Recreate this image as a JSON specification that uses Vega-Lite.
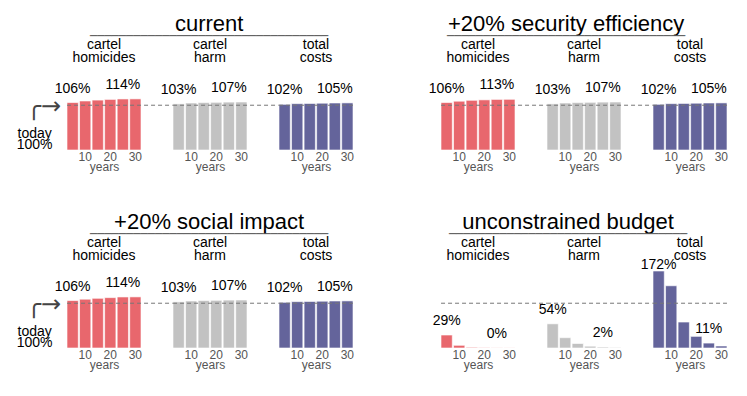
{
  "$schema": "https://vega.github.io/schema/vega-lite/v6.json",
  "padding": {"left": 16, "top": 13, "right": 5, "bottom": 5},
  "config": {
    "font": "Liberation Sans",
    "view": {"stroke": null},
    "title": {"font": "Liberation Sans", "fontSize": 22, "fontWeight": "normal", "color": "#000", "anchor": "middle", "subtitleFont": "DejaVu Sans", "subtitleFontSize": 12, "subtitleColor": "#555", "subtitlePadding": -5, "offset": -5},
    "header": {"labelFont": "Liberation Sans", "labelFontSize": 14, "labelColor": "#000", "labelPadding": 8, "labelLineHeight": 13},
    "axis": {"labelFont": "Liberation Sans", "labelFontSize": 12, "labelColor": "#555", "labelAngle": 0, "domain": false, "ticks": false, "grid": false, "labelPadding": 1, "titleFont": "Liberation Sans", "titleFontSize": 12, "titleFontWeight": "normal", "titleColor": "#555", "titlePadding": -1},
    "text": {"font": "Liberation Sans", "fontSize": 14, "color": "#000"}
  },
  "data": {"values": [
    {"scenario": "current", "metric": "cartel homicides", "year": 5, "value": 1.06},
    {"scenario": "current", "metric": "cartel homicides", "year": 10, "value": 1.095},
    {"scenario": "current", "metric": "cartel homicides", "year": 15, "value": 1.115},
    {"scenario": "current", "metric": "cartel homicides", "year": 20, "value": 1.13},
    {"scenario": "current", "metric": "cartel homicides", "year": 25, "value": 1.14},
    {"scenario": "current", "metric": "cartel homicides", "year": 30, "value": 1.142},
    {"scenario": "current", "metric": "cartel harm", "year": 5, "value": 1.03},
    {"scenario": "current", "metric": "cartel harm", "year": 10, "value": 1.05},
    {"scenario": "current", "metric": "cartel harm", "year": 15, "value": 1.06},
    {"scenario": "current", "metric": "cartel harm", "year": 20, "value": 1.065},
    {"scenario": "current", "metric": "cartel harm", "year": 25, "value": 1.07},
    {"scenario": "current", "metric": "cartel harm", "year": 30, "value": 1.072},
    {"scenario": "current", "metric": "total costs", "year": 5, "value": 1.02},
    {"scenario": "current", "metric": "total costs", "year": 10, "value": 1.035},
    {"scenario": "current", "metric": "total costs", "year": 15, "value": 1.04},
    {"scenario": "current", "metric": "total costs", "year": 20, "value": 1.045},
    {"scenario": "current", "metric": "total costs", "year": 25, "value": 1.05},
    {"scenario": "current", "metric": "total costs", "year": 30, "value": 1.052},
    {"scenario": "security", "metric": "cartel homicides", "year": 5, "value": 1.06},
    {"scenario": "security", "metric": "cartel homicides", "year": 10, "value": 1.09},
    {"scenario": "security", "metric": "cartel homicides", "year": 15, "value": 1.11},
    {"scenario": "security", "metric": "cartel homicides", "year": 20, "value": 1.12},
    {"scenario": "security", "metric": "cartel homicides", "year": 25, "value": 1.13},
    {"scenario": "security", "metric": "cartel homicides", "year": 30, "value": 1.132},
    {"scenario": "security", "metric": "cartel harm", "year": 5, "value": 1.03},
    {"scenario": "security", "metric": "cartel harm", "year": 10, "value": 1.05},
    {"scenario": "security", "metric": "cartel harm", "year": 15, "value": 1.06},
    {"scenario": "security", "metric": "cartel harm", "year": 20, "value": 1.065},
    {"scenario": "security", "metric": "cartel harm", "year": 25, "value": 1.07},
    {"scenario": "security", "metric": "cartel harm", "year": 30, "value": 1.072},
    {"scenario": "security", "metric": "total costs", "year": 5, "value": 1.02},
    {"scenario": "security", "metric": "total costs", "year": 10, "value": 1.035},
    {"scenario": "security", "metric": "total costs", "year": 15, "value": 1.04},
    {"scenario": "security", "metric": "total costs", "year": 20, "value": 1.045},
    {"scenario": "security", "metric": "total costs", "year": 25, "value": 1.05},
    {"scenario": "security", "metric": "total costs", "year": 30, "value": 1.052},
    {"scenario": "social", "metric": "cartel homicides", "year": 5, "value": 1.06},
    {"scenario": "social", "metric": "cartel homicides", "year": 10, "value": 1.09},
    {"scenario": "social", "metric": "cartel homicides", "year": 15, "value": 1.11},
    {"scenario": "social", "metric": "cartel homicides", "year": 20, "value": 1.125},
    {"scenario": "social", "metric": "cartel homicides", "year": 25, "value": 1.14},
    {"scenario": "social", "metric": "cartel homicides", "year": 30, "value": 1.142},
    {"scenario": "social", "metric": "cartel harm", "year": 5, "value": 1.03},
    {"scenario": "social", "metric": "cartel harm", "year": 10, "value": 1.05},
    {"scenario": "social", "metric": "cartel harm", "year": 15, "value": 1.06},
    {"scenario": "social", "metric": "cartel harm", "year": 20, "value": 1.065},
    {"scenario": "social", "metric": "cartel harm", "year": 25, "value": 1.07},
    {"scenario": "social", "metric": "cartel harm", "year": 30, "value": 1.072},
    {"scenario": "social", "metric": "total costs", "year": 5, "value": 1.02},
    {"scenario": "social", "metric": "total costs", "year": 10, "value": 1.035},
    {"scenario": "social", "metric": "total costs", "year": 15, "value": 1.04},
    {"scenario": "social", "metric": "total costs", "year": 20, "value": 1.045},
    {"scenario": "social", "metric": "total costs", "year": 25, "value": 1.05},
    {"scenario": "social", "metric": "total costs", "year": 30, "value": 1.052},
    {"scenario": "unconstrained", "metric": "cartel homicides", "year": 5, "value": 0.29},
    {"scenario": "unconstrained", "metric": "cartel homicides", "year": 10, "value": 0.06},
    {"scenario": "unconstrained", "metric": "cartel homicides", "year": 15, "value": 0.015},
    {"scenario": "unconstrained", "metric": "cartel homicides", "year": 20, "value": 0.006},
    {"scenario": "unconstrained", "metric": "cartel homicides", "year": 25, "value": 0.003},
    {"scenario": "unconstrained", "metric": "cartel homicides", "year": 30, "value": 0.002},
    {"scenario": "unconstrained", "metric": "cartel harm", "year": 5, "value": 0.54},
    {"scenario": "unconstrained", "metric": "cartel harm", "year": 10, "value": 0.23},
    {"scenario": "unconstrained", "metric": "cartel harm", "year": 15, "value": 0.1},
    {"scenario": "unconstrained", "metric": "cartel harm", "year": 20, "value": 0.04},
    {"scenario": "unconstrained", "metric": "cartel harm", "year": 25, "value": 0.02},
    {"scenario": "unconstrained", "metric": "cartel harm", "year": 30, "value": 0.01},
    {"scenario": "unconstrained", "metric": "total costs", "year": 5, "value": 1.72},
    {"scenario": "unconstrained", "metric": "total costs", "year": 10, "value": 1.39},
    {"scenario": "unconstrained", "metric": "total costs", "year": 15, "value": 0.58},
    {"scenario": "unconstrained", "metric": "total costs", "year": 20, "value": 0.26},
    {"scenario": "unconstrained", "metric": "total costs", "year": 25, "value": 0.11},
    {"scenario": "unconstrained", "metric": "total costs", "year": 30, "value": 0.045}
  ]},
  "columns": 2,
  "spacing": {"column": 74, "row": 39},
  "concat": [
    {
      "transform": [{"filter": "datum.scenario == 'current'"}],
      "title": {"text": "current", "subtitle": "─────────────────────────────────", "dx": 24},
      "facet": {"column": {"field": "metric", "type": "nominal", "sort": ["cartel homicides", "cartel harm", "total costs"], "header": {"title": null, "labelExpr": "split(datum.value, ' ')"}}},
      "spacing": 32,
      "bounds": "flush",
      "spec": {"width": 74, "height": 77, "layer": [
        {"mark": {"type": "bar", "stroke": "white", "strokeWidth": 1, "strokeOpacity": 0.6},
         "encoding": {"x": {"field": "year", "type": "ordinal", "scale": {"paddingInner": 0.1, "paddingOuter": 0}, "axis": {"values": [10, 20, 30], "title": "years"}},
           "y": {"field": "value", "type": "quantitative", "scale": {"domain": [0, 1.72], "nice": false}, "axis": null},
           "color": {"field": "metric", "type": "nominal", "scale": {"domain": ["cartel homicides", "cartel harm", "total costs"], "range": ["#e8676d", "#c2c2c2", "#64649b"]}, "legend": null}}},
        {"transform": [{"filter": "datum.year == 5 && datum.metric != 'total costs'"}],
         "mark": {"type": "rule", "strokeDash": [4, 3], "color": "#777", "strokeWidth": 1, "xOffset": -5.6, "x2Offset": 37.6},
         "encoding": {"x": {"field": "year", "type": "ordinal"}, "x2": {"datum": 30}, "y": {"datum": 1}}},
        {"transform": [{"filter": "datum.year == 5 && datum.metric == 'total costs'"}],
         "mark": {"type": "rule", "strokeDash": [4, 3], "color": "#777", "strokeWidth": 1, "xOffset": -5.6, "x2Offset": 5.6},
         "encoding": {"x": {"field": "year", "type": "ordinal"}, "x2": {"datum": 30}, "y": {"datum": 1}}},
        {"transform": [{"filter": "(datum.year == 5 || datum.year == 25) && datum.value < 1.5"}],
         "mark": {"type": "text", "dy": -14},
         "encoding": {"x": {"field": "year", "type": "ordinal"}, "y": {"field": "value", "type": "quantitative"}, "text": {"field": "value", "format": ".0%"}}},
        {"transform": [{"filter": "datum.year == 5 && datum.metric == 'cartel homicides'"}],
         "mark": {"type": "text", "text": ["today", "100%"], "dx": -38, "lineHeight": 11},
         "encoding": {"x": {"field": "year", "type": "ordinal"}, "y": {"datum": 0.36}}},
        {"transform": [{"filter": "datum.year == 5 && datum.metric == 'cartel homicides'"}],
         "mark": {"type": "text", "text": "╭→", "font": "DejaVu Sans", "fontSize": 24, "align": "left", "baseline": "alphabetic", "dx": -46, "color": "#444"},
         "encoding": {"x": {"field": "year", "type": "ordinal"}, "y": {"datum": 0.8}}}
      ]}
    },
    {
      "transform": [{"filter": "datum.scenario == 'security'"}],
      "title": {"text": "+20% security efficiency", "subtitle": "─────────────────────────────────", "dx": -12},
      "facet": {"column": {"field": "metric", "type": "nominal", "sort": ["cartel homicides", "cartel harm", "total costs"], "header": {"title": null, "labelExpr": "split(datum.value, ' ')"}}},
      "spacing": 32,
      "bounds": "flush",
      "spec": {"width": 74, "height": 77, "layer": [
        {"mark": {"type": "bar", "stroke": "white", "strokeWidth": 1, "strokeOpacity": 0.6},
         "encoding": {"x": {"field": "year", "type": "ordinal", "scale": {"paddingInner": 0.1, "paddingOuter": 0}, "axis": {"values": [10, 20, 30], "title": "years"}},
           "y": {"field": "value", "type": "quantitative", "scale": {"domain": [0, 1.72], "nice": false}, "axis": null},
           "color": {"field": "metric", "type": "nominal", "scale": {"domain": ["cartel homicides", "cartel harm", "total costs"], "range": ["#e8676d", "#c2c2c2", "#64649b"]}, "legend": null}}},
        {"transform": [{"filter": "datum.year == 5 && datum.metric != 'total costs'"}],
         "mark": {"type": "rule", "strokeDash": [4, 3], "color": "#777", "strokeWidth": 1, "xOffset": -5.6, "x2Offset": 37.6},
         "encoding": {"x": {"field": "year", "type": "ordinal"}, "x2": {"datum": 30}, "y": {"datum": 1}}},
        {"transform": [{"filter": "datum.year == 5 && datum.metric == 'total costs'"}],
         "mark": {"type": "rule", "strokeDash": [4, 3], "color": "#777", "strokeWidth": 1, "xOffset": -5.6, "x2Offset": 5.6},
         "encoding": {"x": {"field": "year", "type": "ordinal"}, "x2": {"datum": 30}, "y": {"datum": 1}}},
        {"transform": [{"filter": "(datum.year == 5 || datum.year == 25) && datum.value < 1.5"}],
         "mark": {"type": "text", "dy": -14},
         "encoding": {"x": {"field": "year", "type": "ordinal"}, "y": {"field": "value", "type": "quantitative"}, "text": {"field": "value", "format": ".0%"}}}
      ]}
    },
    {
      "transform": [{"filter": "datum.scenario == 'social'"}],
      "title": {"text": "+20% social impact", "subtitle": "─────────────────────────────────", "dx": 24},
      "facet": {"column": {"field": "metric", "type": "nominal", "sort": ["cartel homicides", "cartel harm", "total costs"], "header": {"title": null, "labelExpr": "split(datum.value, ' ')"}}},
      "spacing": 32,
      "bounds": "flush",
      "spec": {"width": 74, "height": 77, "layer": [
        {"mark": {"type": "bar", "stroke": "white", "strokeWidth": 1, "strokeOpacity": 0.6},
         "encoding": {"x": {"field": "year", "type": "ordinal", "scale": {"paddingInner": 0.1, "paddingOuter": 0}, "axis": {"values": [10, 20, 30], "title": "years"}},
           "y": {"field": "value", "type": "quantitative", "scale": {"domain": [0, 1.72], "nice": false}, "axis": null},
           "color": {"field": "metric", "type": "nominal", "scale": {"domain": ["cartel homicides", "cartel harm", "total costs"], "range": ["#e8676d", "#c2c2c2", "#64649b"]}, "legend": null}}},
        {"transform": [{"filter": "datum.year == 5 && datum.metric != 'total costs'"}],
         "mark": {"type": "rule", "strokeDash": [4, 3], "color": "#777", "strokeWidth": 1, "xOffset": -5.6, "x2Offset": 37.6},
         "encoding": {"x": {"field": "year", "type": "ordinal"}, "x2": {"datum": 30}, "y": {"datum": 1}}},
        {"transform": [{"filter": "datum.year == 5 && datum.metric == 'total costs'"}],
         "mark": {"type": "rule", "strokeDash": [4, 3], "color": "#777", "strokeWidth": 1, "xOffset": -5.6, "x2Offset": 5.6},
         "encoding": {"x": {"field": "year", "type": "ordinal"}, "x2": {"datum": 30}, "y": {"datum": 1}}},
        {"transform": [{"filter": "(datum.year == 5 || datum.year == 25) && datum.value < 1.5"}],
         "mark": {"type": "text", "dy": -14},
         "encoding": {"x": {"field": "year", "type": "ordinal"}, "y": {"field": "value", "type": "quantitative"}, "text": {"field": "value", "format": ".0%"}}},
        {"transform": [{"filter": "datum.year == 5 && datum.metric == 'cartel homicides'"}],
         "mark": {"type": "text", "text": ["today", "100%"], "dx": -38, "lineHeight": 11},
         "encoding": {"x": {"field": "year", "type": "ordinal"}, "y": {"datum": 0.36}}},
        {"transform": [{"filter": "datum.year == 5 && datum.metric == 'cartel homicides'"}],
         "mark": {"type": "text", "text": "╭→", "font": "DejaVu Sans", "fontSize": 24, "align": "left", "baseline": "alphabetic", "dx": -46, "color": "#444"},
         "encoding": {"x": {"field": "year", "type": "ordinal"}, "y": {"datum": 0.8}}}
      ]}
    },
    {
      "transform": [{"filter": "datum.scenario == 'unconstrained'"}],
      "title": {"text": "unconstrained budget", "subtitle": "─────────────────────────────────", "dx": -12},
      "facet": {"column": {"field": "metric", "type": "nominal", "sort": ["cartel homicides", "cartel harm", "total costs"], "header": {"title": null, "labelExpr": "split(datum.value, ' ')"}}},
      "spacing": 32,
      "bounds": "flush",
      "spec": {"width": 74, "height": 77, "layer": [
        {"mark": {"type": "bar", "stroke": "white", "strokeWidth": 1, "strokeOpacity": 0.6},
         "encoding": {"x": {"field": "year", "type": "ordinal", "scale": {"paddingInner": 0.1, "paddingOuter": 0}, "axis": {"values": [10, 20, 30], "title": "years"}},
           "y": {"field": "value", "type": "quantitative", "scale": {"domain": [0, 1.72], "nice": false}, "axis": null},
           "color": {"field": "metric", "type": "nominal", "scale": {"domain": ["cartel homicides", "cartel harm", "total costs"], "range": ["#e8676d", "#c2c2c2", "#64649b"]}, "legend": null}}},
        {"transform": [{"filter": "datum.year == 5 && datum.metric != 'total costs'"}],
         "mark": {"type": "rule", "strokeDash": [4, 3], "color": "#777", "strokeWidth": 1, "xOffset": -5.6, "x2Offset": 37.6},
         "encoding": {"x": {"field": "year", "type": "ordinal"}, "x2": {"datum": 30}, "y": {"datum": 1}}},
        {"transform": [{"filter": "datum.year == 5 && datum.metric == 'total costs'"}],
         "mark": {"type": "rule", "strokeDash": [4, 3], "color": "#777", "strokeWidth": 1, "xOffset": -5.6, "x2Offset": 5.6},
         "encoding": {"x": {"field": "year", "type": "ordinal"}, "x2": {"datum": 30}, "y": {"datum": 1}}},
        {"transform": [{"filter": "(datum.year == 5 || datum.year == 25) && datum.value < 1.5"}],
         "mark": {"type": "text", "dy": -14},
         "encoding": {"x": {"field": "year", "type": "ordinal"}, "y": {"field": "value", "type": "quantitative"}, "text": {"field": "value", "format": ".0%"}}},
        {"transform": [{"filter": "(datum.year == 5 || datum.year == 25) && datum.value >= 1.5"}],
         "mark": {"type": "text", "dy": -6},
         "encoding": {"x": {"field": "year", "type": "ordinal"}, "y": {"field": "value", "type": "quantitative"}, "text": {"field": "value", "format": ".0%"}}}
      ]}
    }
  ]
}
